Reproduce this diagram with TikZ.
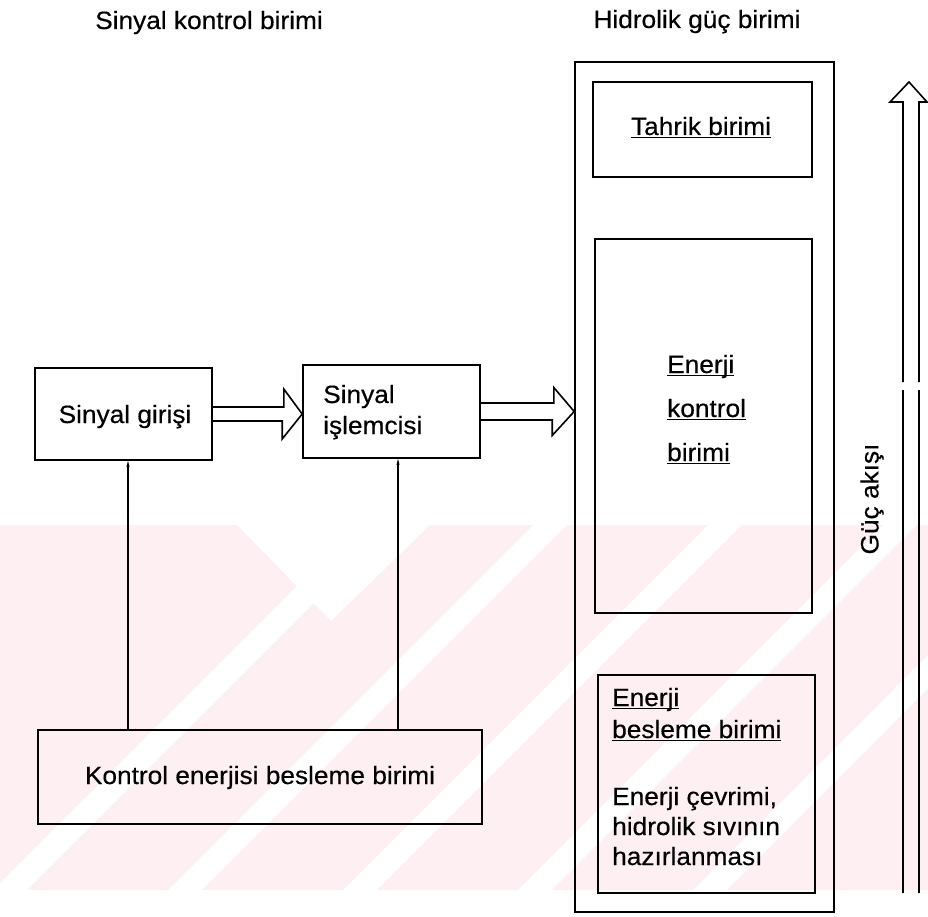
\documentclass[tikz,border=0pt]{standalone}
\usepackage{fontspec}
\setmainfont{Liberation Sans}[FakeStretch=1.05, FakeBold=0.4]
\usetikzlibrary{arrows.meta}
\definecolor{wmpink}{RGB}{253,239,242}
\newcommand\fs{\fontsize{25}{30}\selectfont}
\newcommand\uln[1]{\setbox0\hbox{#1}\rlap{\rule[-3pt]{\wd0}{1.2pt}}\box0}
\begin{document}
\begin{tikzpicture}[x=1pt,y=-1pt,
  box/.style={draw, line width=1.6pt, inner sep=0pt},
  lbl/.style={inner sep=0pt, font=\fs, anchor=base},
  lblw/.style={inner sep=0pt, font=\fs, anchor=base west},
  hollow/.style={draw, line width=1.6pt, line join=miter},
  link/.style={draw, line width=1.2pt, -{Stealth[length=6pt,width=3pt]}},
  wmgap/.style={white, line width=24pt},
]
\useasboundingbox (0,0) rectangle (928,917);

% faint background watermark
\begin{scope}
  \clip (0,525) rectangle (928,890);
  \fill[wmpink] (0,525) rectangle (928,890);
  \foreach \c in {900,1075,1250,1425,1600} {
    \draw[wmgap] (\c-900,900) -- (\c-515,515);
  }
  \fill[white] (237,525) -- (331,621) -- (430,525) -- cycle;
\end{scope}

% titles
\node[lbl] (t1) at (209,29) {Sinyal kontrol birimi};
\node[lbl] (t2) at (697,28) {Hidrolik güç birimi};

% left side boxes
\node[box, minimum width=177pt, minimum height=92pt] (sg) at (123.5,414) {};
\node[lbl] (sgt) at (125,423) {Sinyal girişi};

\node[box, minimum width=177pt, minimum height=93pt] (si) at (391.5,411.5) {};
\node[lblw] (sit1) at (323,403) {Sinyal};
\node[lblw] (sit2) at (323,434) {işlemcisi};

\node[box, minimum width=444pt, minimum height=94pt] (kb) at (260,777) {};
\node[lbl] (kbt) at (260,784) {Kontrol enerjisi besleme birimi};

% hydraulic power unit
\node[box, minimum width=259pt, minimum height=850pt] (outer) at (704.5,487) {};
\node[box, minimum width=219pt, minimum height=95pt] (tb) at (702.5,129.5) {};
\node[lbl] (tbt) at (701,135) {\uln{Tahrik birimi}};

\node[box, minimum width=217pt, minimum height=374pt] (ek) at (703.5,426) {};
\node[lblw] (ek1) at (667,373) {\uln{Enerji}};
\node[lblw] (ek2) at (667,417) {\uln{kontrol}};
\node[lblw] (ek3) at (667,461) {\uln{birimi}};

\node[box, minimum width=217pt, minimum height=218pt] (eb) at (706.5,784) {};
\node[lblw] (eb1) at (612,706) {\uln{Enerji}};
\node[lblw] (eb2) at (612,738) {\uln{besleme birimi}};
\node[lblw] (eb3) at (612,805) {Enerji çevrimi,};
\node[lblw] (eb4) at (612,835) {hidrolik sıvının};
\node[lblw] (eb5) at (612,865) {hazırlanması};

% hollow signal arrows
\draw[hollow] ([yshift=7pt]sg.east) -- ++(71,0) -- ++(0,-18) -- (si.west |- sg.east)
  -- ++(-20,25) -- ++(0,-18) -- ([yshift=-7pt]sg.east);
\draw[hollow] ([yshift=8.5pt]si.east) -- ++(73,0) -- ++(0,-15.5) -- (outer.west |- si.east)
  -- ++(-22,24) -- ++(0,-15.5) -- ([yshift=-8.5pt]si.east);

% supply lines
\coordinate (c1) at (128,0);
\coordinate (c2) at (398,0);
\draw[link] (kb.north -| c1) -- (sg.south -| c1);
\draw[link] (kb.north -| c2) -- (si.south -| c2);

% power flow arrow
\coordinate (pL0) at (903,893);
\coordinate (pL1) at (903,390);
\coordinate (pL2) at (903,382);
\coordinate (pR0) at (919,893);
\coordinate (pR1) at (919,390);
\coordinate (pR2) at (919,382);
\coordinate (ptip) at (909,82);
\draw[hollow] (pL0) -- (pL1);
\draw[hollow] (pR0) -- (pR1);
\draw[hollow] (pL2) -- (903,102) -- (890,102) -- (ptip) -- (927,102) -- (919,102) -- (pR2);
\node[inner sep=0pt, font=\fs, rotate=90] (ga) at (872,499) {Güç akışı};
\end{tikzpicture}
\end{document}
